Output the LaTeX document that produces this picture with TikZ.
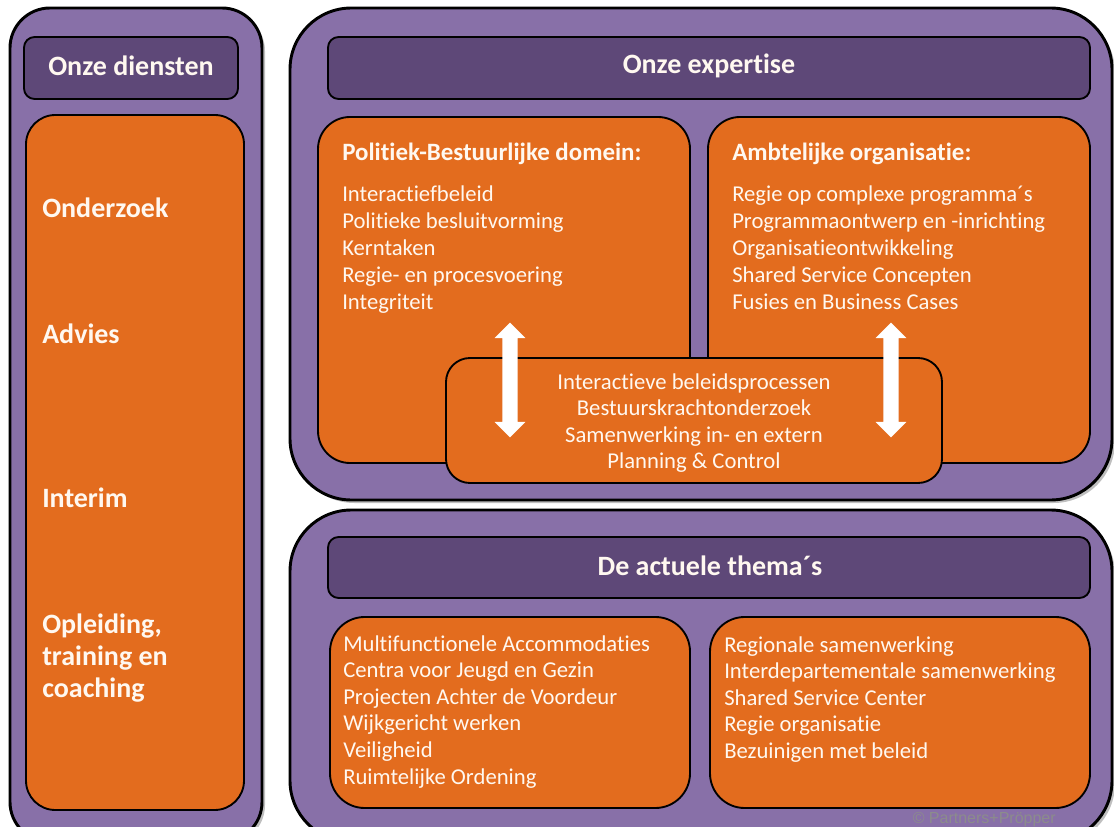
\documentclass[tikz,border=0pt]{standalone}
\usepackage{fontspec}
\setmainfont{Carlito}[Ligatures={NoCommon,NoRare,NoContextual}, Contextuals=NoAlternate]
\usetikzlibrary{shapes.arrows}
\definecolor{paars}{RGB}{136,112,168}
\definecolor{donkerpaars}{RGB}{94,72,120}
\definecolor{oranje}{RGB}{227,108,30}
\definecolor{tekstwit}{RGB}{255,248,240}

\begin{document}
\begin{tikzpicture}[x=0.75pt,y=-0.75pt,
				kader/.style = {draw=black, line width=2.2pt, fill=paars},
				schaduw/.style = {fill=black!25, draw=none},
				kop/.style = {draw=black, line width=1.4pt, fill=donkerpaars, rounded corners=8pt},
				vak/.style = {draw=black, line width=1.4pt, fill=oranje},
				koptekst/.style = {text=tekstwit, inner sep=0pt, font=\bfseries\fontsize{21}{24}\selectfont},
				dienst/.style = {text=tekstwit, anchor=base west, inner sep=0pt,
					font=\bfseries\fontsize{21}{24}\selectfont},
				titel/.style = {text=tekstwit, anchor=base west, inner sep=0pt,
					font=\bfseries\fontsize{18.7}{22}\selectfont},
				lijst/.style = {text=tekstwit, anchor=base west, inner sep=0pt,
					font=\fontsize{17}{20}\selectfont},
				pijl/.style = {double arrow, fill=white, rotate=90, inner xsep=0pt, inner ysep=5.6pt,
					minimum height=86pt, double arrow head extend=5.8pt}]
				
				\useasboundingbox (0,0) rectangle (1114,827);
				\clip (0,0) rectangle (1114,827);
				
				% Onze diensten
				\fill[schaduw, rounded corners=30pt] (13,11) rectangle (265,845);
				\draw[kader, rounded corners=30pt] (10,8) rectangle (262,842);
				\draw[kop] (24,37) rectangle (238,99);
				\draw[vak, rounded corners=22pt] (26,115) rectangle (244,810);
				\node[koptekst] (diensten) at (131,66) {Onze diensten};
				\node[dienst] (onderzoek) at (42,218) {Onderzoek};
				\node[dienst] (advies) at (42,344) {Advies};
				\node[dienst] (interim) at (42,507) {Interim};
				\foreach \regel [count=\i from 0] in {{Opleiding,}, training en, coaching}
					\node[dienst] (opleiding-\i) at (42,{633+32*\i}) {\regel};
				
				% Onze expertise
				\fill[schaduw, rounded corners=46pt] (293,11) rectangle (1115,503);
				\draw[kader, rounded corners=46pt] (290,8) rectangle (1112,500);
				\draw[kop] (328,37) rectangle (1090,99);
				\draw[vak, rounded corners=24pt] (318,117) rectangle (690,463);
				\draw[vak, rounded corners=24pt] (708,117) rectangle (1090,463);
				\draw[vak, rounded corners=18pt] (446,358) rectangle (942,483);
				\node[koptekst] (expertise) at (709,66) {Onze expertise};
				\node[titel] (politiek) at (342,161) {Politiek-Bestuurlijke domein:};
				\foreach \regel [count=\i from 0] in {Interactiefbeleid, Politieke besluitvorming,
						Kerntaken, Regie- en procesvoering, Integriteit}
					\node[lijst] (politiek-\i) at (342,{202+27*\i}) {\regel};
				\node[titel] (ambtelijk) at (732,161) {Ambtelijke organisatie:};
				\foreach \regel [count=\i from 0] in {Regie op complexe programma´s,
						Programmaontwerp en -inrichting, Organisatieontwikkeling,
						Shared Service Concepten, Fusies en Business Cases}
					\node[lijst] (ambtelijk-\i) at (732,{202+27*\i}) {\regel};
				\foreach \regel [count=\i from 0] in {Interactieve beleidsprocessen,
						Bestuurskrachtonderzoek, Samenwerking in- en extern, Planning \& Control}
					\node[lijst, anchor=base] (gedeeld-\i) at (694,{389+26.5*\i}) {\regel};
				
				% Pijlen
				\node[pijl] (pijlLinks) at (510,380) {};
				\node[pijl] (pijlRechts) at (891,380) {};
				
				% De actuele thema's
				\fill[schaduw, rounded corners=46pt] (293,513) rectangle (1115,845);
				\draw[kader, rounded corners=46pt] (290,510) rectangle (1112,842);
				\draw[kop] (328,537) rectangle (1090,598);
				\draw[vak, rounded corners=26pt] (330,617) rectangle (690,808);
				\draw[vak, rounded corners=26pt] (710,617) rectangle (1090,808);
				\node[koptekst] (themas) at (710,566) {De actuele thema´s};
				\foreach \regel [count=\i from 0] in {Multifunctionele Accommodaties,
						Centra voor Jeugd en Gezin, Projecten Achter de Voordeur,
						Wijkgericht werken, Veiligheid, Ruimtelijke Ordening}
					\node[lijst] (themaLinks-\i) at (343,{651+26.6*\i}) {\regel};
				\foreach \regel [count=\i from 0] in {Regionale samenwerking,
						Interdepartementale samenwerking, Shared Service Center,
						Regie organisatie, Bezuinigen met beleid}
					\node[lijst] (themaRechts-\i) at (724,{652+26.5*\i}) {\regel};
				
				\node[anchor=base east, inner sep=0pt, text=black!45,
					font=\fontspec{Liberation Sans}\fontsize{12}{14}\selectfont] (copyright) at (1056,823) {© Partners+Pröpper};
				
\end{tikzpicture}
\end{document}
